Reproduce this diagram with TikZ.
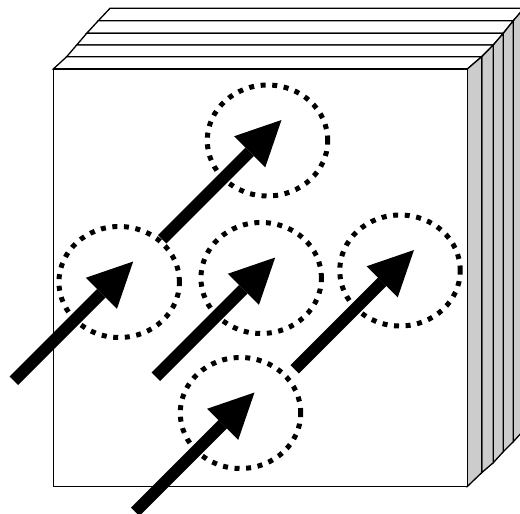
\documentclass[tikz,border=0pt]{standalone}
\usepackage{tikz}
\usetikzlibrary{arrows.meta,shapes.geometric}

\tikzset{
  slab/.style={draw=black,line width=1.3pt,line join=miter,fill=white},
  ring/.style={ellipse,draw=black,line width=5pt,dash pattern=on 5pt off 6.6pt,
               minimum width=120.5pt,minimum height=111pt,inner sep=0pt},
  push/.style={line width=12pt,-{Triangle[length=45pt,width=44pt,line width=0pt]}}
}

\begin{document}
\begin{tikzpicture}[x=1pt,y=-1pt]
  \useasboundingbox (0,0) rectangle (520,514);
  \clip (0,0) rectangle (520,514);
  % faces of the stack, front to back
  \foreach \xl/\yt/\xr/\yb [count=\k from 0] in
     {53.3/69/467.3/486.5, 66.7/56.7/481.7/472.7, 76.7/45/493.3/462.7,
      86.7/33.3/503.3/451.7, 98.3/20.7/513.3/441.7, 110/8.3/524/430}{
     \coordinate (tl\k) at (\xl,\yt);
     \coordinate (tr\k) at (\xr,\yt);
     \coordinate (br\k) at (\xr,\yb);
  }
  \foreach \k in {4,...,0}{
     \pgfmathtruncatemacro\n{\k+1}
     \draw[slab] (tl\k) -- (tl\n) -- (tr\n) -- (tr\k) -- cycle;
     \draw[slab,fill=black!20] (tr\k) -- (tr\n) -- (br\n) -- (br\k) -- cycle;
  }
  \draw[slab] (tl0) rectangle (br0);
  % dotted regions
  \node[ring] (ring1) at (119.2,282) {};
  \node[ring] (ring2) at (261.2,278) {};
  \node[ring] (ring3) at (400,270.5) {};
  \node[ring] (ring4) at (240.5,413) {};
  \node[ring] (ring5) at (267.5,140.5) {};
  % arrows
  \foreach \i in {1,...,5}{
     \coordinate (tip\i) at ([shift={(14,-20.5)}]ring\i.center);
     \coordinate (tail\i) at ([shift={(-119.3,119.3)}]tip\i);
     \draw[push] (tail\i) -- (tip\i);
  }
\end{tikzpicture}
\end{document}
